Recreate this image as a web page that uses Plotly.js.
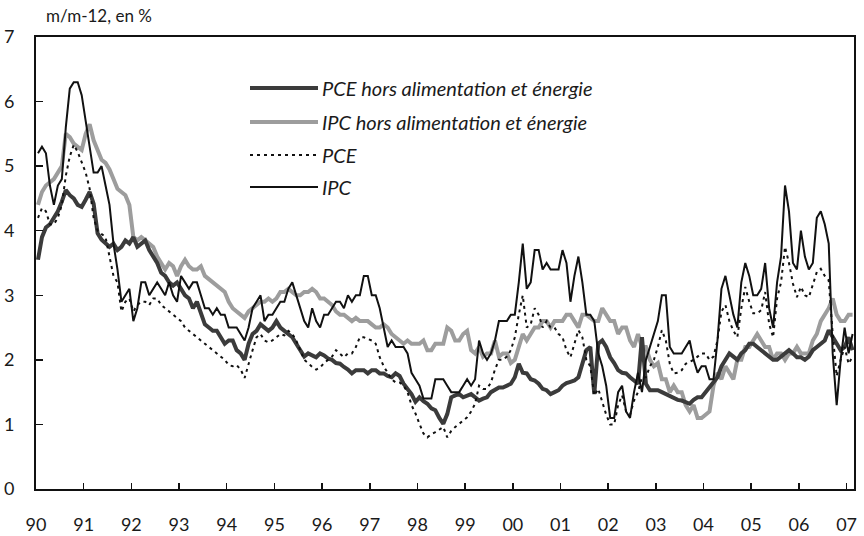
<!DOCTYPE html>
<html>
<head>
<meta charset="utf-8">
<script src="https://cdn.plot.ly/plotly-3.0.1.min.js"></script>
<style>
html,body{margin:0;padding:0;background:#fff;}
#chart{width:864px;height:536px;}
</style>
</head>
<body>
<div id="chart"></div>
<script>
// Monthly data, Jan 1990 – Feb 2007 (% y/y)
const startYear = 1990;
const yearLabels = ["90","91","92","93","94","95","96","97","98","99","00","01","02","03","04","05","06","07"];
const seriesNames = ["PCE hors alimentation et énergie","IPC hors alimentation et énergie","PCE","IPC"];

const pceCore = [
  3.55,3.9,4.05,4.1,4.2,4.3,4.45,4.63,4.55,4.5,4.4,4.37,
  4.48,4.6,4.42,3.96,3.86,3.8,3.75,3.8,3.7,3.75,3.85,3.8,
  3.9,3.75,3.8,3.85,3.7,3.6,3.5,3.35,3.3,3.2,3.15,3.2,
  3.1,3.0,2.95,2.8,2.9,2.7,2.55,2.5,2.45,2.45,2.35,2.25,
  2.3,2.3,2.15,2.1,2.0,2.25,2.4,2.45,2.55,2.5,2.45,2.5,
  2.6,2.5,2.45,2.4,2.35,2.25,2.15,2.05,2.1,2.07,2.04,2.1,
  2.07,2.02,2.0,1.95,1.94,1.89,1.85,1.79,1.84,1.84,1.84,1.79,
  1.84,1.84,1.79,1.79,1.75,1.73,1.79,1.75,1.63,1.55,1.47,1.35,
  1.42,1.36,1.32,1.25,1.22,1.1,1.01,1.16,1.42,1.45,1.47,1.42,
  1.45,1.47,1.42,1.37,1.4,1.42,1.5,1.53,1.57,1.57,1.6,1.63,
  1.73,1.94,1.8,1.79,1.7,1.68,1.63,1.55,1.53,1.47,1.5,1.53,
  1.6,1.64,1.66,1.68,1.73,1.95,2.15,2.2,1.47,2.25,2.3,2.2,
  2.04,1.95,1.84,1.8,1.79,1.73,1.68,1.63,2.35,1.63,1.53,1.53,
  1.53,1.5,1.47,1.45,1.42,1.38,1.37,1.35,1.32,1.38,1.42,1.42,
  1.5,1.57,1.65,1.73,1.9,2.0,2.1,2.05,2.0,2.1,2.15,2.25,
  2.25,2.2,2.15,2.1,2.04,2.0,2.0,2.05,2.1,2.15,2.1,2.04,
  2.04,2.0,2.05,2.15,2.2,2.25,2.3,2.46,2.35,2.25,2.15,2.2,
  2.35,2.15
];

const cpiCore = [
  4.4,4.6,4.7,4.75,4.8,4.9,5.0,5.5,5.45,5.35,5.3,5.25,
  5.5,5.65,5.4,5.25,5.1,5.05,4.95,4.8,4.65,4.6,4.55,4.4,
  3.9,3.85,3.9,3.85,3.8,3.75,3.6,3.5,3.4,3.5,3.45,3.3,
  3.45,3.55,3.45,3.4,3.4,3.45,3.3,3.25,3.2,3.15,3.1,3.05,
  2.9,2.8,2.75,2.7,2.65,2.75,2.8,2.85,2.9,2.9,2.95,2.9,
  2.95,3.05,3.05,3.1,3.05,3.0,3.0,3.05,3.05,3.1,3.05,2.95,
  2.95,2.9,2.85,2.75,2.7,2.7,2.65,2.6,2.65,2.6,2.6,2.6,
  2.55,2.5,2.5,2.55,2.5,2.4,2.35,2.3,2.25,2.3,2.25,2.25,
  2.25,2.3,2.15,2.15,2.25,2.25,2.25,2.5,2.45,2.3,2.3,2.4,
  2.45,2.15,2.1,2.2,2.05,2.1,2.1,2.3,2.05,2.1,2.1,1.95,
  2.0,2.2,2.4,2.3,2.4,2.5,2.5,2.6,2.6,2.5,2.6,2.6,
  2.6,2.7,2.7,2.6,2.5,2.7,2.7,2.65,2.6,2.6,2.8,2.7,
  2.6,2.6,2.4,2.5,2.5,2.3,2.2,2.4,2.2,2.2,2.0,1.9,
  1.95,1.7,1.7,1.5,1.6,1.5,1.5,1.3,1.2,1.3,1.1,1.1,
  1.15,1.2,1.6,1.8,1.7,1.9,1.8,1.7,2.0,2.0,2.2,2.2,
  2.3,2.4,2.3,2.2,2.2,2.0,2.1,2.1,2.0,2.1,2.1,2.2,
  2.1,2.1,2.1,2.3,2.4,2.6,2.7,2.8,2.95,2.7,2.6,2.6,
  2.7,2.7
];

const pce = [
  4.2,4.35,4.3,4.1,4.1,4.2,4.4,4.85,5.15,5.33,5.22,5.05,
  4.9,4.65,4.2,4.0,3.95,3.9,3.6,3.3,3.2,2.75,2.9,2.95,
  2.75,2.85,2.9,2.9,2.85,2.95,2.95,2.85,2.8,2.75,2.7,2.65,
  2.6,2.5,2.45,2.4,2.35,2.3,2.25,2.2,2.15,2.1,2.05,2.0,
  1.92,1.9,1.92,1.85,1.72,1.95,2.15,2.35,2.4,2.3,2.27,2.3,
  2.35,2.4,2.38,2.45,2.4,2.3,2.15,2.0,1.95,1.89,1.85,1.88,
  1.95,2.0,2.05,2.15,2.1,2.04,2.1,2.1,2.2,2.35,2.35,2.33,
  2.3,2.25,2.04,1.9,1.8,1.7,1.65,1.65,1.6,1.5,1.3,1.17,
  1.01,0.86,0.8,0.85,0.88,0.92,0.96,0.8,0.9,0.96,1.01,1.05,
  1.11,1.2,1.32,1.6,1.55,1.55,1.65,1.85,2.0,2.0,2.05,2.15,
  2.35,2.7,3.0,2.5,2.55,2.8,2.7,2.5,2.6,2.5,2.5,2.4,
  2.35,2.15,2.04,2.25,2.46,2.35,2.0,1.9,1.45,1.55,1.35,1.15,
  1.0,1.0,1.3,1.45,1.2,1.15,1.37,1.5,1.73,1.73,1.9,2.0,
  2.2,2.46,2.3,1.94,1.79,1.8,1.84,1.94,1.97,2.0,2.05,2.1,
  2.1,2.0,2.05,2.3,2.75,2.85,2.6,2.45,2.35,2.8,3.13,2.9,
  2.72,2.72,2.77,3.05,2.56,2.35,2.95,3.2,3.75,3.5,3.18,2.97,
  3.13,3.0,2.97,3.18,3.36,3.41,3.3,3.23,2.4,1.75,2.0,2.2,
  1.94,2.05
];

const cpi = [
  5.2,5.3,5.2,4.7,4.4,4.7,4.8,5.6,6.2,6.3,6.3,6.1,
  5.7,5.3,4.9,4.9,5.0,4.7,4.4,3.8,3.4,2.9,3.0,3.1,
  2.6,2.8,3.2,3.2,3.0,3.1,3.2,3.1,3.0,3.2,3.0,2.9,
  3.3,3.2,3.1,3.2,3.2,3.0,2.8,2.8,2.7,2.8,2.7,2.7,
  2.5,2.5,2.5,2.4,2.3,2.5,2.8,2.9,3.0,2.6,2.7,2.7,
  2.8,2.9,2.9,3.1,3.2,3.0,2.8,2.6,2.5,2.8,2.6,2.5,
  2.7,2.7,2.8,2.9,2.9,2.8,3.0,2.9,3.0,3.0,3.3,3.3,
  3.0,3.0,2.8,2.5,2.2,2.3,2.2,2.2,2.2,2.1,1.8,1.7,
  1.6,1.4,1.4,1.4,1.7,1.7,1.7,1.6,1.5,1.5,1.5,1.6,
  1.7,1.6,1.7,2.3,2.1,2.0,2.1,2.3,2.6,2.6,2.6,2.7,
  2.7,3.2,3.8,3.1,3.2,3.7,3.7,3.4,3.5,3.4,3.4,3.4,
  3.7,3.5,2.9,3.3,3.6,3.2,2.7,2.7,2.6,2.1,1.9,1.6,
  1.1,1.1,1.5,1.6,1.2,1.1,1.5,1.8,1.5,2.0,2.2,2.4,
  2.6,3.0,3.0,2.2,2.1,2.1,2.1,2.2,2.3,2.0,1.8,1.9,
  1.9,1.7,1.7,2.3,3.1,3.3,3.0,2.7,2.5,3.2,3.5,3.3,
  3.0,3.0,3.1,3.5,2.8,2.5,3.2,3.6,4.7,4.3,3.5,3.4,
  4.0,3.6,3.4,3.5,4.2,4.3,4.1,3.8,2.1,1.3,2.0,2.5,
  2.1,2.4
];

// month positions (mid-month, decimal years)
const months = pce.map((_, i) => startYear + (i + 0.5) / 12);
const tickYears = yearLabels.map((_, i) => startYear + i);

const FONT = "Lato, 'Open Sans', sans-serif";
const styles = [
  {color: "#3b3b3b", width: 4, dash: "solid"},
  {color: "#9d9d9d", width: 4, dash: "solid"},
  {color: "#111111", width: 2, dash: "3px,4px"},
  {color: "#111111", width: 2, dash: "solid"}
];
const seriesData = [pceCore, cpiCore, pce, cpi];
const drawOrder = [1, 0, 2, 3];

const traces = drawOrder.map(k => ({
  type: "scatter", mode: "lines",
  x: months, y: seriesData[k], name: seriesNames[k],
  line: {color: styles[k].color, width: styles[k].width, dash: styles[k].dash, shape: "linear"},
  showlegend: false, hoverinfo: "skip"
}));

// manual legend (paper coords)
const L = 36, R = 854, T = 37, B = 489;
const px = x => (x - L) / (R - L);
const py = y => (B - y) / (B - T);
const legY = [88, 122, 155, 187];
const shapes = [], annotations = [];
seriesNames.forEach((nm, k) => {
  shapes.push({type: "line", xref: "paper", yref: "paper",
    x0: px(250), x1: px(318), y0: py(legY[k]), y1: py(legY[k]),
    line: {color: styles[k].color, width: styles[k].width, dash: styles[k].dash}});
  annotations.push({xref: "paper", yref: "paper", x: px(320), y: py(legY[k]),
    xanchor: "left", yanchor: "middle", showarrow: false, text: "<i>" + nm + "</i>",
    font: {family: FONT, size: 20, color: "#1a1a1a"}});
});
annotations.push({xref: "paper", yref: "paper", x: px(44), y: py(15), xanchor: "left", yanchor: "middle",
  showarrow: false, text: "m/m-12, en %", font: {family: FONT, size: 17, color: "#1a1a1a"}});

const layout = {
  width: 864, height: 536,
  margin: {l: L, r: 864 - R, t: T, b: 536 - B, pad: 0},
  paper_bgcolor: "#fff", plot_bgcolor: "#fff",
  font: {family: FONT, color: "#1a1a1a"},
  xaxis: {
    range: [1990, 2007.155], tickvals: tickYears, ticktext: yearLabels,
    ticks: "inside", ticklen: 6, tickwidth: 1.5, tickcolor: "#111",
    showline: true, linecolor: "#111", linewidth: 2, mirror: true,
    showgrid: false, zeroline: false, ticklabelstandoff: 18,
    tickfont: {family: FONT, size: 18, color: "#1a1a1a"}
  },
  yaxis: {
    range: [0, 7], tickvals: [0,1,2,3,4,5,6,7], ticktext: ["0","1","2","3","4","5","6","7"],
    ticks: "inside", ticklen: 7, tickwidth: 1.5, tickcolor: "#111",
    showline: true, linecolor: "#111", linewidth: 2, mirror: true,
    showgrid: false, zeroline: false, ticklabelstandoff: 16,
    tickfont: {family: FONT, size: 18, color: "#1a1a1a"}
  },
  shapes: shapes, annotations: annotations, showlegend: false
};

Plotly.newPlot("chart", traces, layout, {staticPlot: true, displayModeBar: false});
</script>
</body>
</html>
